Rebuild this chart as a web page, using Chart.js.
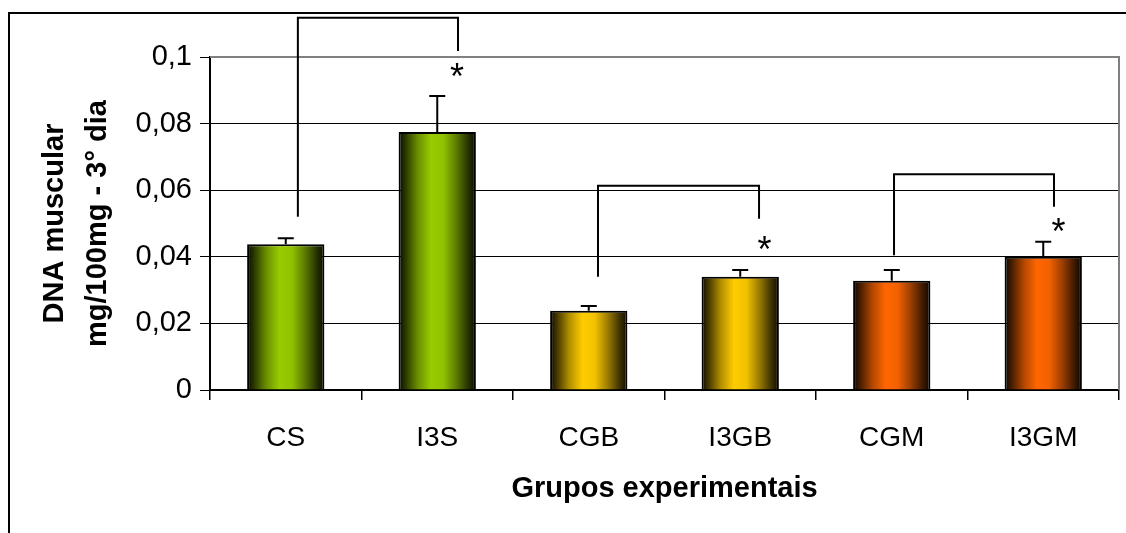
<!DOCTYPE html>
<html>
<head>
<meta charset="utf-8">
<script src="https://cdn.jsdelivr.net/npm/chart.js@4/dist/chart.umd.min.js"></script>
<style>
  html, body { margin: 0; padding: 0; background: #fff; }
  #wrap { width: 1126px; height: 533px; }
</style>
</head>
<body>
<div id="wrap"><canvas id="dnaChart"></canvas></div>
<script>
// dados
const grupos = ['CS', 'I3S', 'CGB', 'I3GB', 'CGM', 'I3GM'];
const dnaMedia = [0.0438, 0.0775, 0.0238, 0.0340, 0.0328, 0.0400];
const dnaErro = [0.0018, 0.0108, 0.0014, 0.0020, 0.0032, 0.0045];
const coresBase = ['#99cc00', '#99cc00', '#ffcc00', '#ffcc00', '#ff6600', '#ff6600'];
const yTicks = [0, 0.02, 0.04, 0.06, 0.08, 0.1];

// colchetes de significância: [grupo esq, desloc esq, grupo dir, desloc dir, topo, fim esq, fim dir]
const colchetes = [
  [0, 0.08, 1, 0.137, 0.1118, 0.052, 0.1018],
  [2, 0.061, 3, 0.124, 0.0613, 0.034, 0.0514],
  [4, 0.015, 5, 0.071, 0.0648, 0.0405, 0.055]
];
// asteriscos: [grupo, deslocamento, valor]
const asteriscos = [
  [1, 0.13, 0.0952],
  [3, 0.16, 0.0432],
  [5, 0.10, 0.0486]
];

function escurecer(hex, f) {
  const r = parseInt(hex.slice(1, 3), 16), g = parseInt(hex.slice(3, 5), 16), b = parseInt(hex.slice(5, 7), 16);
  return `rgb(${Math.round(r * f)}, ${Math.round(g * f)}, ${Math.round(b * f)})`;
}

// gradiente horizontal de cada barra (escuro nas bordas)
function gradienteBarra(context) {
  const chart = context.chart;
  const base = coresBase[context.dataIndex];
  const xs = chart.scales.x;
  if (!chart.chartArea || !xs) return base;
  const centro = xs.getPixelForValue(context.dataIndex);
  const largura = xs.width / grupos.length * 0.51;
  const g = chart.ctx.createLinearGradient(centro - largura / 2, 0, centro + largura / 2, 0);
  const paradas = [[0, 0.05], [0.1, 0.3], [0.25, 0.7], [0.42, 1], [0.58, 0.95], [0.75, 0.6], [0.9, 0.25], [1, 0.05]];
  paradas.forEach(p => g.addColorStop(p[0], escurecer(base, p[1])));
  return g;
}

const moldura = {
  id: 'moldura',
  beforeDraw(chart) {
    const ctx = chart.ctx;
    ctx.save();
    ctx.fillStyle = '#fff';
    ctx.fillRect(0, 0, chart.width, chart.height);
    ctx.strokeStyle = '#000';
    ctx.lineWidth = 2;
    ctx.beginPath();
    ctx.moveTo(9, chart.height);
    ctx.lineTo(9, 13);
    ctx.lineTo(chart.width, 13);
    ctx.stroke();
    ctx.restore();
  },
  beforeDatasetsDraw(chart) {
    const { ctx, chartArea } = chart;
    ctx.save();
    ctx.strokeStyle = '#808080';
    ctx.lineWidth = 2;
    ctx.beginPath();
    ctx.moveTo(chartArea.left, chartArea.top);
    ctx.lineTo(chartArea.right, chartArea.top);
    ctx.lineTo(chartArea.right, chartArea.bottom);
    ctx.stroke();
    ctx.restore();
  }
};

const barrasErro = {
  id: 'barrasErro',
  afterDatasetsDraw(chart) {
    const ctx = chart.ctx;
    const xs = chart.scales.x, ys = chart.scales.y;
    const larguraCat = xs.width / grupos.length;
    const px = (i, d) => xs.getPixelForValue(i) + d * larguraCat;
    ctx.save();
    ctx.strokeStyle = '#000';
    ctx.lineWidth = 2;
    // barras de erro
    dnaMedia.forEach((v, i) => {
      const x = px(i, 0);
      const y0 = ys.getPixelForValue(v);
      const y1 = ys.getPixelForValue(v + dnaErro[i]);
      ctx.beginPath();
      ctx.moveTo(x, y0);
      ctx.lineTo(x, y1);
      ctx.moveTo(x - 8, y1);
      ctx.lineTo(x + 8, y1);
      ctx.stroke();
    });
    // colchetes
    colchetes.forEach(c => {
      const xa = px(c[0], c[1]), xb = px(c[2], c[3]);
      ctx.beginPath();
      ctx.moveTo(xa, ys.getPixelForValue(c[5]));
      ctx.lineTo(xa, ys.getPixelForValue(c[4]));
      ctx.lineTo(xb, ys.getPixelForValue(c[4]));
      ctx.lineTo(xb, ys.getPixelForValue(c[6]));
      ctx.stroke();
    });
    // asteriscos
    ctx.fillStyle = '#000';
    ctx.font = '36px "Liberation Sans", Arial, sans-serif';
    ctx.textAlign = 'center';
    ctx.textBaseline = 'middle';
    asteriscos.forEach(a => {
      ctx.fillText('*', px(a[0], a[1]), ys.getPixelForValue(a[2]) + 6);
    });
    ctx.restore();
  }
};

const fonte = '"Liberation Sans", Arial, sans-serif';

new Chart(document.getElementById('dnaChart'), {
  type: 'bar',
  data: {
    labels: grupos,
    datasets: [{
      data: dnaMedia,
      backgroundColor: gradienteBarra,
      borderColor: '#000',
      borderWidth: 2,
      borderSkipped: 'bottom',
      categoryPercentage: 1,
      barPercentage: 0.51
    }]
  },
  options: {
    responsive: true,
    maintainAspectRatio: false,
    animation: false,
    layout: { padding: { left: 0, top: 57, right: 7, bottom: 0 } },
    plugins: {
      legend: { display: false },
      tooltip: { enabled: false }
    },
    scales: {
      x: {
        afterFit(scale) { scale.height = 143; },
        grid: { drawOnChartArea: false, color: '#000', lineWidth: 1.5, tickLength: 10 },
        border: { color: '#000', width: 2 },
        ticks: { color: '#000', padding: 21, font: { family: fonte, size: 28 } },
        title: {
          display: true,
          text: 'Grupos experimentais',
          color: '#000',
          font: { family: fonte, size: 29, weight: 'bold' },
          padding: { top: 0, bottom: 27 }
        }
      },
      y: {
        min: 0,
        max: 0.1,
        afterFit(scale) { scale.width = 210; },
        afterBuildTicks(scale) { scale.ticks = yTicks.map(v => ({ value: v })); },
        grid: { color: '#000', lineWidth: 1, tickLength: 10 },
        border: { color: '#000', width: 2 },
        ticks: {
          color: '#000',
          padding: 8,
          font: { family: fonte, size: 29 },
          callback: v => String(Number(v.toFixed(2))).replace('.', ',')
        },
        title: {
          display: true,
          text: ['DNA muscular', 'mg/100mg - 3° dia'],
          color: '#000',
          font: { family: fonte, size: 29, weight: 'bold', lineHeight: 1.5 },
          padding: { top: 33, bottom: 0 }
        }
      }
    }
  },
  plugins: [moldura, barrasErro]
});
</script>
</body>
</html>
